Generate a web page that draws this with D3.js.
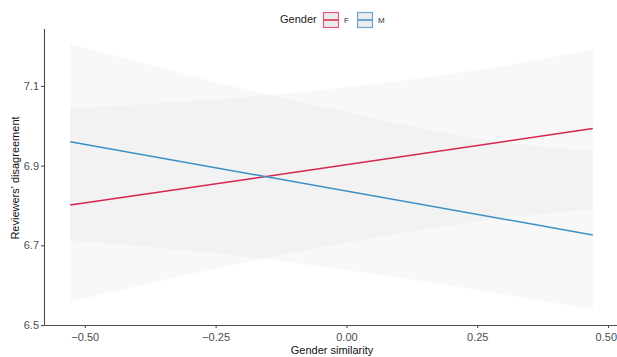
<!DOCTYPE html>
<html>
<head>
<meta charset="utf-8">
<script src="https://cdn.jsdelivr.net/npm/d3@7"></script>
<style>
  html, body { margin: 0; padding: 0; background: #fff; }
  svg { display: block; font-family: "Liberation Sans", Arial, sans-serif; }
</style>
</head>
<body>
<div id="chart"></div>
<script>
// ---- data ----
const genderLevels = ["F", "M"];
const xPoints = [-0.528, -0.25, 0, 0.25, 0.471];
const fitF   = [6.801, 6.854, 6.902, 6.950, 6.993];
const lowerF = [6.558, 6.642, 6.707, 6.760, 6.792];
const upperF = [7.044, 7.066, 7.097, 7.140, 7.191];
const fitM   = [6.960, 6.895, 6.836, 6.778, 6.726];
const lowerM = [6.713, 6.680, 6.638, 6.588, 6.538];
const upperM = [7.206, 7.110, 7.034, 6.968, 6.937];
const xTicks = [-0.50, -0.25, 0.00, 0.25, 0.50];
const yTicks = [6.5, 6.7, 6.9, 7.1];
const colors = ["#d7264e", "#3a8fc9"];

const W = 617, H = 357;
const svg = d3.select("#chart").append("svg").attr("width", W).attr("height", H);

const x = d3.scaleLinear().domain([-0.578, 0.521]).range([44, 619]);
const y = d3.scaleLinear().domain([6.5, 7.243]).range([325, 29]);

const series = [
  { key: "F", fit: fitF, lo: lowerF, hi: upperF, color: colors[0] },
  { key: "M", fit: fitM, lo: lowerM, hi: upperM, color: colors[1] }
];

const area = d3.area()
  .x(d => x(d.x)).y0(d => y(d.lo)).y1(d => y(d.hi))
  .curve(d3.curveMonotoneX);
const line = d3.line().x(d => x(d.x)).y(d => y(d.v));

// ribbons
series.forEach(s => {
  const pts = xPoints.map((xv, i) => ({ x: xv, lo: s.lo[i], hi: s.hi[i] }));
  svg.append("path").attr("d", area(pts))
    .attr("fill", "#d4d4d4").attr("fill-opacity", 0.16);
});
// lines
series.forEach(s => {
  const pts = [0, xPoints.length - 1].map(i => ({ x: xPoints[i], v: s.fit[i] }));
  svg.append("path").attr("d", line(pts))
    .attr("fill", "none").attr("stroke", s.color).attr("stroke-width", 1.5);
});

// axes
const xAxis = d3.axisBottom(x).tickValues(xTicks).tickFormat(d3.format(".2f")).tickSize(3).tickSizeOuter(0);
const yAxis = d3.axisLeft(y).tickValues(yTicks).tickFormat(d3.format(".1f")).tickSize(3).tickSizeOuter(0);

const gx = svg.append("g").attr("transform", "translate(0,325)").call(xAxis);
const gy = svg.append("g").attr("transform", "translate(44,0)").call(yAxis);
[gx, gy].forEach(g => {
  g.select(".domain").attr("stroke", "#4d4d4d").attr("stroke-width", 1.1);
  g.selectAll(".tick line").attr("stroke", "#4d4d4d").attr("stroke-width", 1.1);
  g.selectAll(".tick text").attr("fill", "#4d4d4d")
    .style("font-size", "11px").style("font-family", "Liberation Sans, Arial, sans-serif");
});
gx.select(".domain").attr("d", "M44,0.5H619");
gy.select(".domain").attr("d", "M0.5,29V325");
gx.selectAll(".tick text").attr("y", 8).attr("dy", "0.71em");
// keep the last label inside the picture
gx.selectAll(".tick text").filter(d => d === xTicks[xTicks.length - 1])
  .attr("text-anchor", "end").attr("x", W - 0.5 - x(xTicks[xTicks.length - 1]));
gy.selectAll(".tick text").attr("x", -5);

// axis titles
svg.append("text").attr("x", 332).attr("y", 354).attr("text-anchor", "middle")
  .style("font-size", "11px").attr("fill", "#111").text("Gender similarity");
svg.append("text").attr("transform", "translate(19,178) rotate(-90)")
  .attr("text-anchor", "middle").style("font-size", "11px").attr("fill", "#111")
  .text("Reviewers' disagreement");

// legend
const lg = svg.append("g");
lg.append("text").attr("x", 280).attr("y", 23).style("font-size", "11px").attr("fill", "#222").text("Gender");
const keyX = [323, 357];
series.forEach((s, i) => {
  const kx = keyX[i];
  lg.append("rect").attr("x", kx + 0.5).attr("y", 12.5).attr("width", 15).attr("height", 15)
    .attr("fill", "#ececec").attr("stroke", s.color).attr("stroke-width", 1.2).attr("stroke-opacity", 0.75);
  lg.append("line").attr("x1", kx + 1).attr("x2", kx + 15).attr("y1", 20).attr("y2", 20)
    .attr("stroke", s.color).attr("stroke-width", 1.5);
  lg.append("text").attr("x", kx + 21).attr("y", 23).style("font-size", "8px").attr("fill", "#333").text(genderLevels[i]);
});
</script>
</body>
</html>
